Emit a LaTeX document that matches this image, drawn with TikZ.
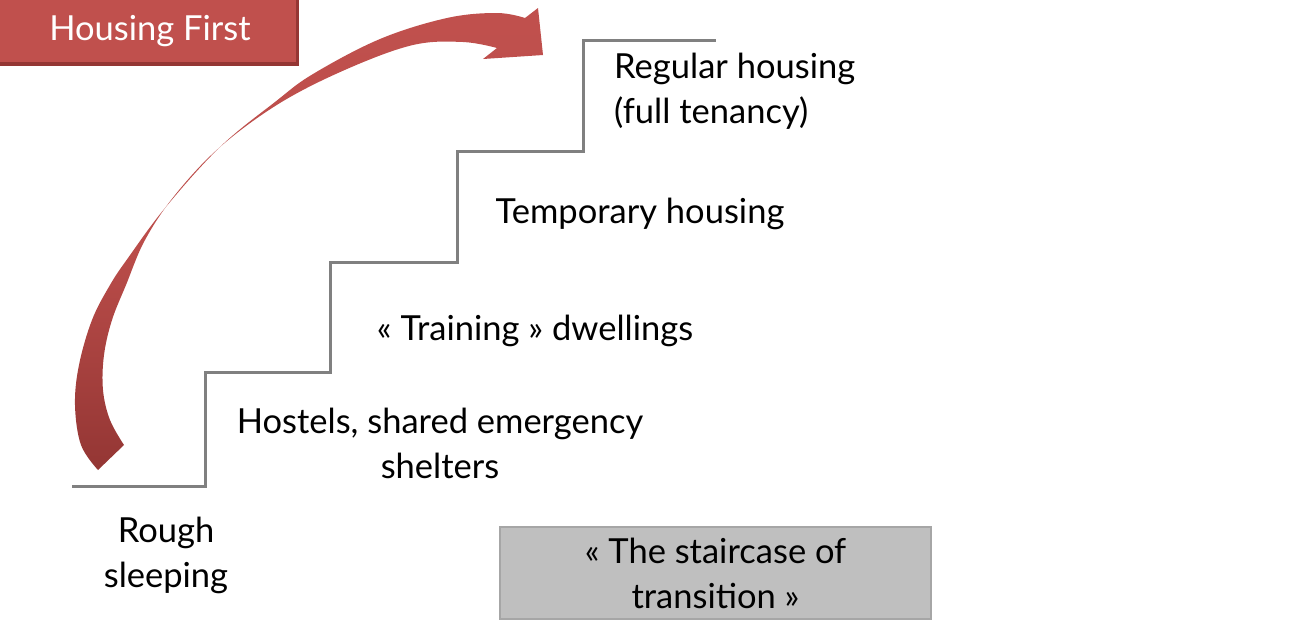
\documentclass[tikz,border=0pt]{standalone}
\usepackage{fontspec}
\setmainfont{Lato}
\definecolor{hfred}{HTML}{C0504D}
\definecolor{hfdark}{HTML}{943634}
\definecolor{stairgray}{HTML}{808080}
\definecolor{boxgray}{HTML}{BFBFBF}
\definecolor{boxedge}{HTML}{A6A6A6}
\tikzset{
  lbl/.style={font=\fontsize{34.5}{45}\selectfont, align=center, inner sep=0pt, text=black},
  stairline/.style={draw=stairgray, line width=3pt},
}
\begin{document}
\begin{tikzpicture}[x=1pt,y=-1pt]
\useasboundingbox (0,0) rectangle (1307,632);
% Housing First box
\fill[hfdark] (-5,-5) rectangle (299,66);
\fill[hfred] (-5,-5) rectangle (296,62);
\node[font=\fontsize{34.5}{40}\selectfont, text=white, inner sep=0pt] (hf) at (150,31) {Housing First};
% staircase
\draw[stairline] (72,486) -| (205,372) -| (330,262) -| (457,151) -| (583,40) -- (716,40);
% curved arrow
\shade[top color=hfred, bottom color=hfdark, middle color=hfred!90!hfdark]
  plot[smooth, tension=0.6] coordinates {(98,470) (81,445) (75,405) (79,365) (92,320) (110,285) (128,258) (165,208) (220,147) (275,102) (313,74) (380,39) (447,18) (497,13) (525,18)}
  -- (538,8) -- (543,55) -- (483,59) -- (497,48)
  -- plot[smooth, tension=0.6] coordinates {(497,48) (463,42) (413,45) (347,69) (280,103) (220,147) (175,195) (145,240) (126,285) (112,320) (104,355) (103,390) (110,420) (124,445)}
  -- cycle;
% labels
\node[lbl] (rough) at (166,555) {Rough\\sleeping};
\node[lbl] (hostels) at (440,443) {Hostels, shared emergency\\shelters};
\node[lbl] (training) at (535,331) {« Training » dwellings};
\node[lbl] (temp) at (640,214) {Temporary housing};
\node[lbl, anchor=west, align=left] (regular) at (614,91) {Regular housing\\(full tenancy)};
% staircase of transition box
\node[lbl, fill=boxgray, draw=boxedge, line width=2pt, minimum width=431pt, minimum height=92pt] (stair) at (715.5,573) {« The staircase of\\transition »};
\end{tikzpicture}
\end{document}
